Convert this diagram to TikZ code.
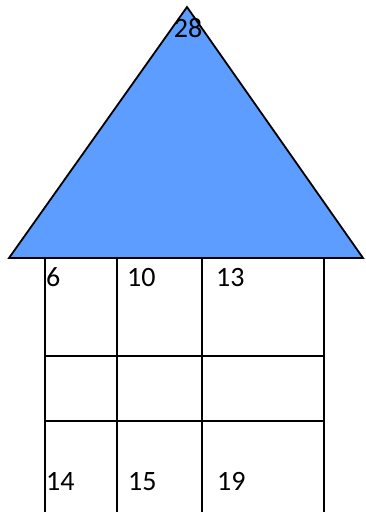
\documentclass[tikz,border=0pt]{standalone}
\usepackage{fontspec}
\setmainfont{Carlito}
\definecolor{roofblue}{RGB}{92,157,255}
\tikzset{
  roof/.style={fill=roofblue, draw=black, line width=1.8pt, line join=miter},
  grid line/.style={draw=black, line width=1.8pt},
  num/.style={inner sep=0pt, font=\fontsize{28}{30}\selectfont, anchor=base west}
}
\begin{document}
\begin{tikzpicture}[x=1pt,y=-1pt]
\useasboundingbox (0,0) rectangle (365,512);
% roof
\coordinate (apex) at (187,7);
\coordinate (bl) at (9,258);
\coordinate (br) at (363,258);
\path[roof] (apex) -- (br) -- (bl) -- cycle;
% walls / grid
\coordinate (w1t) at (45,258);  \coordinate (w1b) at (45,512);
\coordinate (w2t) at (117,257); \coordinate (w2b) at (117,512);
\coordinate (w3t) at (202,257); \coordinate (w3b) at (202,512);
\coordinate (w4t) at (324,258); \coordinate (w4b) at (324,512);
\coordinate (h1l) at (45,356);  \coordinate (h1r) at (324,356);
\coordinate (h2l) at (45,421);  \coordinate (h2r) at (324,421);
\draw[grid line] (w1t) -- (w1b);
\draw[grid line] (w2t) -- (w2b);
\draw[grid line] (w3t) -- (w3b);
\draw[grid line] (w4t) -- (w4b);
\draw[grid line] (h1l) -- (h1r);
\draw[grid line] (h2l) -- (h2r);
% labels
\node[num, anchor=base] (n28) at (188,37) {28};
\node[num] (n6)  at (46,286)  {6};
\node[num] (n10) at (127,286) {10};
\node[num] (n13) at (216,286) {13};
\node[num] (n14) at (46,490)  {14};
\node[num] (n15) at (128,490) {15};
\node[num] (n19) at (217,490) {19};
\end{tikzpicture}
\end{document}
